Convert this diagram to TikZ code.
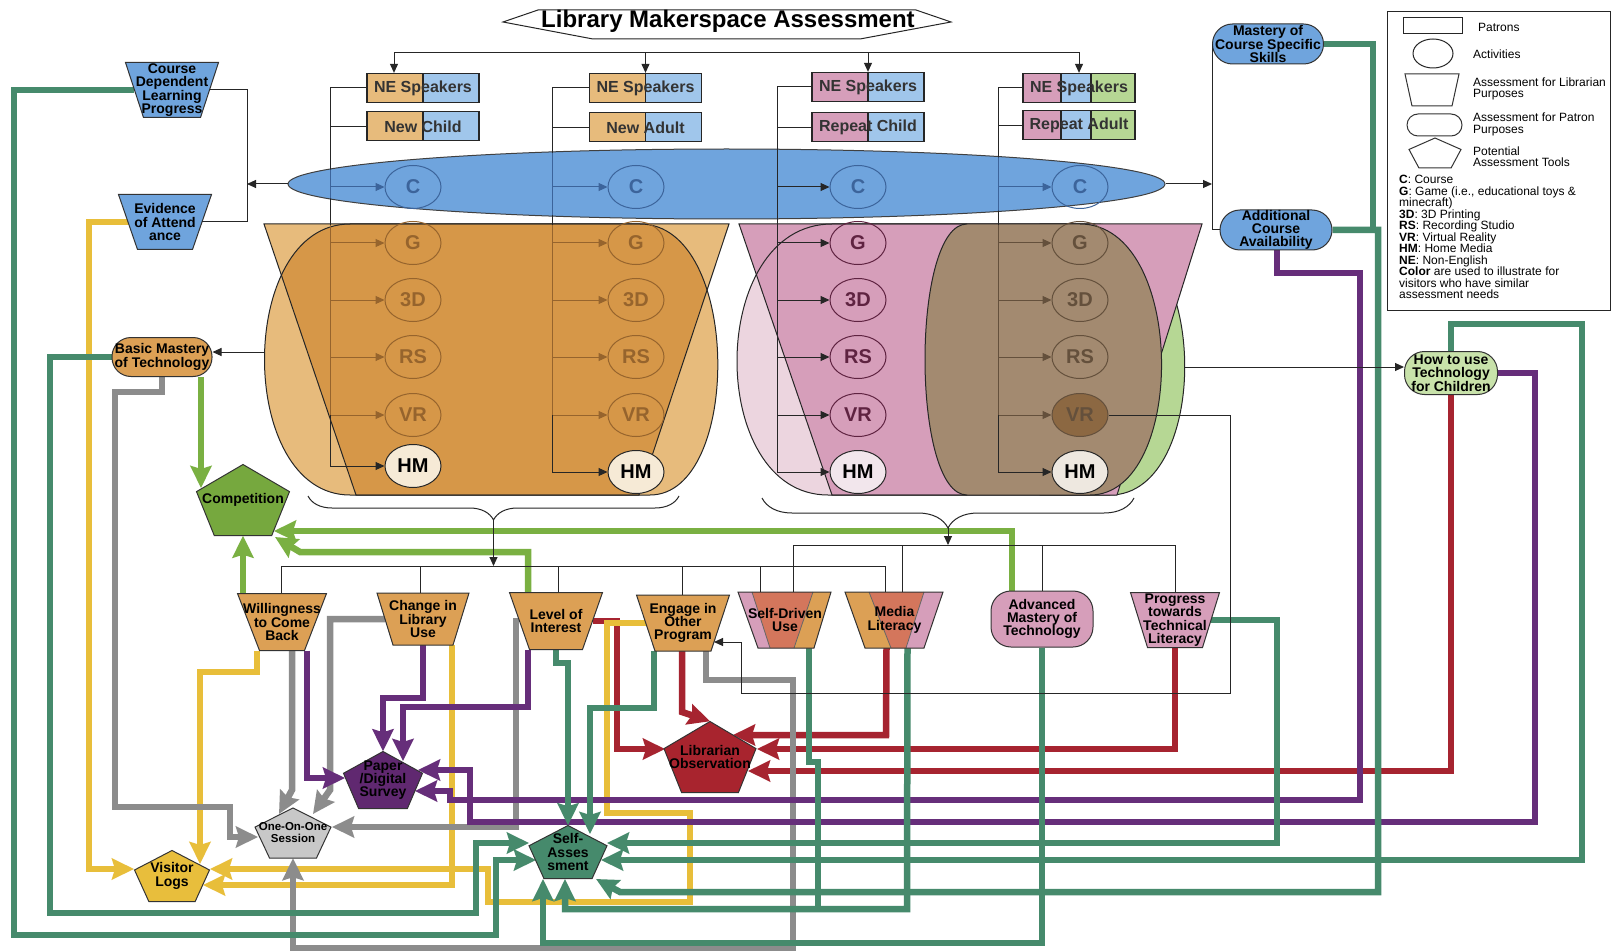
\documentclass[tikz,border=0pt]{standalone}
\usepackage{fontspec}
\setmainfont{Liberation Sans}
\usepackage{tikz}
\usetikzlibrary{shapes.geometric, arrows.meta, positioning, calc, decorations.pathreplacing}

\definecolor{tealC}{RGB}{70,138,108}
\definecolor{yelC}{RGB}{232,190,58}
\definecolor{grayC}{RGB}{140,140,140}
\definecolor{purC}{RGB}{102,46,122}
\definecolor{redC}{RGB}{166,36,48}
\definecolor{lgrC}{RGB}{122,176,66}
\definecolor{blueN}{RGB}{111,164,221}
\definecolor{blueL}{RGB}{160,198,235}
\definecolor{blueD}{RGB}{60,100,155}
\definecolor{oraN}{RGB}{220,160,85}
\definecolor{oraL}{RGB}{231,187,124}
\definecolor{oraD}{RGB}{214,151,72}
\definecolor{oraBr}{RGB}{150,100,45}
\definecolor{pinkN}{RGB}{214,158,186}
\definecolor{pinkL}{RGB}{236,213,223}
\definecolor{greenL}{RGB}{182,215,148}
\definecolor{brownR}{RGB}{163,138,112}
\definecolor{brnD}{RGB}{100,80,60}
\definecolor{salmonN}{RGB}{212,118,92}
\definecolor{compG}{RGB}{118,168,62}
\definecolor{howG}{RGB}{200,226,170}
\definecolor{obsR}{RGB}{168,36,46}
\definecolor{surP}{RGB}{96,40,112}
\definecolor{oneG}{RGB}{200,200,200}
\definecolor{logY}{RGB}{232,190,60}
\definecolor{hmA}{RGB}{246,234,214}
\definecolor{hmB}{RGB}{242,230,236}
\definecolor{hmC}{RGB}{238,232,224}
\definecolor{vrB}{RGB}{140,104,66}
\definecolor{actP}{RGB}{95,35,65}

\pgfdeclarelayer{back}
\pgfdeclarelayer{wires}
\pgfsetlayers{back,wires,main}

\newcommand{\lblfont}{\bfseries\fontsize{14}{13.3}\selectfont}
\newcommand{\smlfont}{\bfseries\fontsize{11.5}{12}\selectfont}
\newcommand{\keyfont}{\fontsize{12}{11.5}\selectfont}

% trapezoid: [opts]{name}{centre}{top w}{bottom w}{height}{fill}{text}
\newcommand{\trapnode}[8][]{%
  \filldraw[fill=#7, draw=black!80, line width=1pt]
    ($(#3)+(-#4/2,-#6/2)$) -- ($(#3)+(#4/2,-#6/2)$) --
    ($(#3)+(#5/2,#6/2)$) -- ($(#3)+(-#5/2,#6/2)$) -- cycle;
  \node[lbl, minimum width={(#4+#5)/2}, minimum height=#6, #1] (#2) at (#3) {#8};}

% pentagon: [opts]{name}{centre}{width}{height}{fill}{text}
\newcommand{\pentnode}[7][]{%
  \filldraw[fill=#6, draw=black!80, line width=1pt]
    ($(#3)+(0,-#5/2)$) -- ($(#3)+(#4/2,-0.118*#5)$) --
    ($(#3)+(0.309*#4,#5/2)$) -- ($(#3)+(-0.309*#4,#5/2)$) --
    ($(#3)+(-#4/2,-0.118*#5)$) -- cycle;
  \node[lbl, minimum width=#4, minimum height=#5, #1] (#2) at (#3) {#7};}

\begin{document}
\begin{tikzpicture}[x=1pt, y=-1pt,
    lbl/.style={inner sep=0pt, align=center, font=\lblfont, text=black},
    stad/.style={rectangle, rounded corners=#1, draw=black!80, line width=1pt, inner sep=0pt, align=center, font=\lblfont},
    stad/.default=16pt,
    patron/.style={rectangle, draw=black!85, line width=1.3pt, minimum width=112pt, minimum height=29pt, inner sep=0pt, font=\bfseries\fontsize{16}{16}\selectfont, text=black!80},
    split/.style 2 args={path picture={
        \fill[#2] ([xshift=#1]path picture bounding box.south west) rectangle (path picture bounding box.north east);
        \draw[black!85, line width=1.2pt] ([xshift=#1]path picture bounding box.south west) -- ([xshift=#1]path picture bounding box.north west);}},
    split3/.style={path picture={
        \fill[blueL] ([xshift=38pt]path picture bounding box.south west) rectangle ([xshift=68pt]path picture bounding box.north west);
        \fill[greenL] ([xshift=68pt]path picture bounding box.south west) rectangle (path picture bounding box.north east);
        \draw[black!85, line width=1.2pt] ([xshift=38pt]path picture bounding box.south west) -- ([xshift=38pt]path picture bounding box.north west)
          ([xshift=68pt]path picture bounding box.south west) -- ([xshift=68pt]path picture bounding box.north west);}},
    act/.style={ellipse, draw, line width=1pt, minimum width=56pt, minimum height=43pt, inner sep=0pt, font=\bfseries\fontsize{20}{20}\selectfont},
    fadeB/.style={draw=blueD, text=blueD},
    fadeO/.style={draw=oraBr, text=oraBr},
    fadeW/.style={draw=brnD, text=brnD},
    wire/.style={draw=black!85, line width=1pt},
    warrow/.style={wire, -{Triangle[length=9pt, width=8pt]}},
    fat/.style={line width=6.5pt, -{Stealth[length=22pt, width=21pt, inset=3pt]}},
    tealw/.style={fat, draw=tealC},
    tealline/.style={line width=6.5pt, draw=tealC},
    yelw/.style={fat, draw=yelC},
    grayw/.style={fat, draw=grayC},
    purw/.style={fat, draw=purC},
    redw/.style={fat, draw=redC},
    lgrw/.style={fat, draw=lgrC}
]

\begin{pgfonlayer}{back}
\fill[white] (0,0) rectangle (1612,952);
\end{pgfonlayer}
\useasboundingbox (0,0) rectangle (1612,952);

% Title
\draw[wire] (503,22) -- (538,10) -- (916,10) -- (951,22) -- (860,39) -- (593,39) -- cycle;
\node[font=\bfseries\fontsize{24}{24}\selectfont] (ttl) at (728,21) {Library Makerspace Assessment};

% Patrons
\node[patron, fill=oraL, split={56pt}{blueL}] (ne1) at (423,88) {NE Speakers};
\node[patron, fill=oraL, split={56pt}{blueL}, below=8pt of ne1] (nc1) {New Child};
\node[patron, fill=oraL, split={56pt}{blueL}] (ne2) at (645.5,88) {NE Speakers};
\node[patron, fill=oraL, split={56pt}{blueL}, below=9pt of ne2] (na2) {New Adult};
\node[patron, fill=pinkN, split={56pt}{blueL}] (ne3) at (868,87) {NE Speakers};
\node[patron, fill=pinkN, split={56pt}{blueL}, below=10pt of ne3] (rc3) {Repeat Child};
\node[patron, fill=pinkN, split3] (ne4) at (1079,88) {NE Speakers};
\node[patron, fill=pinkN, split3, below=7pt of ne4] (ra4) {Repeat Adult};

\coordinate (dtop) at ($(ne1.north)+(-29,-20.5)$);
\draw[wire] (dtop) -- (dtop -| ne4.north);
\draw[warrow] (dtop) -- ($(ne1.north)+(-29,0)$);
\foreach \b in {ne2, ne3, ne4}
  \draw[warrow] (dtop -| \b.north) -- (\b.north);

% Regions - orange
\fill[oraL] (264,224) -- (729,224) -- (639,495) -- (356,495) -- cycle;
\fill[oraL] (350,224) -- (640,224) .. controls (742,224) and (742,495) .. (650,495) -- (350,495) .. controls (236,495) and (236,224) .. (350,224) -- cycle;
\begin{scope}
  \clip (264,224) -- (729,224) -- (639,495) -- (356,495) -- cycle;
  \fill[oraD] (350,224) -- (640,224) .. controls (742,224) and (742,495) .. (650,495) -- (350,495) .. controls (236,495) and (236,224) .. (350,224) -- cycle;
\end{scope}
\draw[wire] (264,224) -- (729,224) -- (639,495) -- (356,495) -- cycle;
\draw[wire] (350,224) -- (640,224) .. controls (742,224) and (742,495) .. (650,495) -- (350,495) .. controls (236,495) and (236,224) .. (350,224) -- cycle;

% Regions - pink, green, brown
\filldraw[fill=greenL, wire] (1040,224) -- (1095,224) .. controls (1212,224) and (1212,495) .. (1110,495) -- (1040,495) -- cycle;
\fill[pinkL] (832,224) -- (967,224) -- (967,495) -- (828,495) .. controls (706,495) and (706,224) .. (832,224) -- cycle;
\fill[pinkN] (739,224) -- (1202,224) -- (1117,495) -- (832,495) -- cycle;
\draw[wire] (967,224) -- (832,224) .. controls (706,224) and (706,495) .. (828,495) -- (967,495);
\draw[wire] (739,224) -- (1202,224) -- (1117,495) -- (832,495) -- cycle;
\filldraw[fill=brownR, wire] (967,224) -- (1080,224) .. controls (1187,224) and (1187,495) .. (1090,495) -- (967,495) .. controls (911,495) and (911,224) .. (967,224) -- cycle;

% Course band
\node[ellipse, draw=black!75, line width=1pt, fill=blueN, minimum width=877pt, minimum height=70pt] (crs) at (726.5,184) {};

% Activities
\coordinate (bus1) at (330,88);
\coordinate (bus2) at (552,88);
\coordinate (bus3) at (777,87);
\coordinate (bus4) at (998,88);

\foreach \lab/\nm/\yy in {G/g/243, 3D/d/300, RS/r/357, VR/v/415} {
  \node[act, fadeO] (\nm1) at (413,\yy) {\lab};
  \node[act, fadeO] (\nm2) at (636,\yy) {\lab};
}
\foreach \lab/\nm/\yy in {G/g/243, 3D/d/300, RS/r/357}
  \node[act, fadeW] (\nm4) at (1080,\yy) {\lab};
\node[act, fadeW, fill=vrB] (v4) at (1080,415) {VR};
\foreach \g/\xx in {1/413, 2/636, 3/858, 4/1080}
  \node[act, fadeB] (c\g) at (\xx,187) {C};
\foreach \lab/\nm/\yy in {G/g/243, 3D/d/300, RS/r/357, VR/v/415}
  \node[act, draw=actP, text=actP] (\nm3) at (858,\yy) {\lab};

\node[act, fill=hmA, draw=black!85] (hm1) at (413,466) {HM};
\node[act, fill=hmA, draw=black!85] (hm2) at (636,472) {HM};
\node[act, fill=hmB, draw=black!85] (hm3) at (858,472) {HM};
\node[act, fill=hmC, draw=black!85] (hm4) at (1080,472) {HM};

% Patron brackets
\draw[wire] (ne1.west) -- (bus1) (nc1.west) -- (nc1.west -| bus1);
\draw[wire] (ne2.west) -- (bus2) (na2.west) -- (na2.west -| bus2);
\draw[wire] (ne3.west) -- (bus3) (rc3.west) -- (rc3.west -| bus3);
\draw[wire] (ne4.west) -- (bus4) (ra4.west) -- (ra4.west -| bus4);
\foreach \g in {1,2,3,4}
  \draw[wire] (bus\g) -- (bus\g |- v\g);
\begin{scope}
  \clip (crs.center) ellipse [x radius=437, y radius=34];
  \foreach \g in {1,2,4}
    \draw[wire, draw=blueD] (bus\g) -- (bus\g |- v\g);
\end{scope}
\draw[wire, draw=oraBr] ($(bus1)+(0,137)$) -- (bus1 |- v1);
\draw[wire, draw=oraBr] ($(bus2)+(0,137)$) -- (bus2 |- v2);
\draw[wire, draw=brnD] ($(bus4)+(0,137)$) -- (bus4 |- v4);
\foreach \g in {1,2,4}
  \draw[warrow, draw=blueD] (bus\g |- c\g) -- (c\g.west);
\foreach \nm in {g,d,r,v} {
  \draw[warrow, draw=oraBr] (bus1 |- \nm1) -- (\nm1.west);
  \draw[warrow, draw=oraBr] (bus2 |- \nm2) -- (\nm2.west);
  \draw[warrow, draw=brnD] (bus4 |- \nm4) -- (\nm4.west);
}
\foreach \nm in {c,g,d,r,v}
  \draw[warrow] (bus3 |- \nm3) -- (\nm3.west);
\foreach \g in {1,2,3,4}
  \draw[warrow] (bus\g |- v\g) |- (hm\g.west);

% Left assessments
\trapnode{cdlp}{172,90}{93}{57}{55}{blueN}{Course\\Dependent\\Learning\\Progress}
\trapnode{evid}{165,222}{93}{55}{55}{blueN}{Evidence\\of Attend\\ance}
\node[stad=19pt, fill=oraN, minimum width=100pt, minimum height=39pt] (bmt) at (162,357) {Basic Mastery\\of Technology};

% Right assessments
\node[stad=20pt, fill=blueN, minimum width=111pt, minimum height=40pt] (mcs) at (1268,44) {Mastery of\\Course Specific\\Skills};
\node[stad=20pt, fill=blueN, minimum width=112pt, minimum height=40pt] (aca) at (1276,230) {Additional\\Course\\Availability};
\node[stad=20pt, fill=howG, minimum width=93pt, minimum height=43pt] (htc) at (1451,373) {How to use\\Technology\\for Children};

% Bottom assessments
\trapnode{wcb}{282,622}{89}{45}{57}{oraN}{Willingness\\to Come\\Back}
\trapnode{cilu}{423,619}{92}{60}{52}{oraN}{Change in\\Library\\Use}
\trapnode{loi}{556,621}{93}{53}{57}{oraN}{Level of\\Interest}
\trapnode{eiop}{683,623}{93}{56}{56}{oraN}{Engage in\\Other\\Program}

\fill[pinkN] (738,592) -- (831,592) -- (814,648) -- (758,648) -- cycle;
\fill[salmonN] (752,592) -- (813,592) -- (794,648) -- (770,648) -- cycle;
\fill[oraN] (813,592) -- (831,592) -- (814,648) -- (794,648) -- cycle;
\draw[black!60, line width=.8pt] (752,592) -- (770,648) (813,592) -- (794,648);
\draw[black!80, line width=1pt] (738,592) -- (831,592) -- (814,648) -- (758,648) -- cycle;
\node[lbl, minimum width=74.5pt, minimum height=56pt] (sdu) at (785,620) {Self-Driven\\Use};

\fill[oraN] (845,592) -- (943,592) -- (924,648) -- (865,648) -- cycle;
\fill[salmonN] (869,592) -- (924,592) -- (906,648) -- (891,648) -- cycle;
\fill[pinkN] (924,592) -- (943,592) -- (924,648) -- (906,648) -- cycle;
\draw[black!60, line width=.8pt] (869,592) -- (891,648) (924,592) -- (906,648);
\draw[black!80, line width=1pt] (845,592) -- (943,592) -- (924,648) -- (865,648) -- cycle;
\node[lbl, minimum width=78.5pt, minimum height=56pt] (ml) at (894.5,620) {Media\\Literacy};

\node[stad=20pt, fill=pinkN, minimum width=102pt, minimum height=56pt] (amt) at (1042,619) {Advanced\\Mastery of\\Technology};
\trapnode{ptl}{1175,620}{89}{55}{55}{pinkN}{Progress\\towards\\Technical\\Literacy}

% Assessment tools
\pentnode{comp}{243,500}{93}{71}{compG}{Competition}
\pentnode{vlog}{172,876}{75}{51}{logY}{Visitor\\Logs}
\pentnode[font=\smlfont]{oos}{293,833}{76}{50}{oneG}{One-On-One\\Session}
\pentnode{pds}{383,780}{79}{57}{surP}{Paper\\/Digital\\Survey}
\pentnode{sa}{568,852}{78}{53}{tealC}{Self-\\Asses\\sment}
\pentnode{lobs}{710,757}{92}{71}{obsR}{Librarian\\Observation}

% Thin connectors
\coordinate (lbr) at (247,184);
\draw[wire] (cdlp.east) -| (247,222) -- (evid.east);
\draw[warrow] (crs.west) -- (lbr);
\draw[wire] (mcs.west) |- (aca.west);
\draw[warrow] (crs.east) -- (crs.east -| mcs.west);
\coordinate (orgL) at (264,352);
\draw[warrow] (orgL) -- (orgL -| bmt.east);
\coordinate (grnR) at (1184,367);
\draw[warrow] (grnR) -- (grnR -| htc.west);
\draw[warrow] (v4.east) -- (1230,415) -- (1230,693) -- (741,693) -- (741,642) -- ($(eiop)+(31,19)$);

% Braces and buses
\draw[wire, decorate, decoration={brace, mirror, amplitude=24pt}] (308,496) -- (679,496);
\draw[wire, decorate, decoration={brace, mirror, amplitude=30pt}] (762,498) -- (1134,498);
\coordinate (b1) at (493.5,520);
\coordinate (b2) at (948,528);
\coordinate (busA) at (493.5,566);
\coordinate (busB) at (948,545);
\draw[warrow] (b1) -- (busA);
\draw[warrow] (b2) -- (busB);
\draw[wire] ($(wcb.north)+(-1,0)$) |- (busA);
\draw[wire] ($(ml.north)+(-9.5,0)$) |- (busA);
\foreach \n/\dx in {cilu/-3, loi/2, eiop/-1, sdu/-25}
  \draw[wire] ($(\n.north)+(\dx,0)$) |- (busA);
\foreach \n/\dx in {sdu/8, ml/7.5, amt/0, ptl/0}
  \draw[wire] ($(\n.north)+(\dx,0)$) |- (busB);

% Thick connectors
\begin{pgfonlayer}{wires}
% red
\draw[redw] (loi.east) -- (617,621) -- (617,749) -- ($(lobs)+(-45,-8)$);
\draw[redw] ($(eiop.south)+(-1,0)$) -- (682,712) -- (lobs.north);
\draw[redw] ($(ml.south)+(-8,0)$) -- (886,735) -- ($(lobs)+(23,-22)$);
\draw[redw] (ptl.south) -- (1175,749) -- ($(lobs)+(47,-8)$);
\draw[redw] (htc.south) -- (1451,771) -- ($(lobs)+(38,14)$);
% yellow
\draw[yelw] (evid.west) -- (89,222) -- (89,869) -- ($(vlog)+(-38,-7)$);
\draw[yelw] ($(wcb.south)+(-25,0)$) -- (257,672) -- (200,672) -- ($(vlog)+(28,-12)$);
\draw[yelw] ($(cilu.south)+(29,0)$) -- (452,885) -- ($(vlog)+(31,9)$);
\draw[yelw] (eiop.west) -- (607,623) -- (607,813) -- (690,813) -- (690,902) -- (488,902) -- (488,869) -- ($(vlog)+(38,-7)$);
% gray
\draw[grayw] (bmt.south) -- (162,392) -- (115,392) -- (115,807) -- (230,807) -- (230,837) -- ($(oos)+(-35,4)$);
\draw[grayw] ($(wcb.south)+(10,0)$) -- (292,790) -- ($(oos)+(-14,-19)$);
\draw[grayw] (cilu.west) -- (330,619) -- (330,790) -- ($(oos)+(20,-19)$);
\draw[grayw] (loi.west) -- (516,621) -- (516,827) -- ($(oos)+(39,-6)$);
\draw[grayw] ($(eiop.south)+(23,0)$) -- (706,680) -- (793,680) -- (793,948) -- (293,948) -- (oos.south);
% purple
\draw[purw] ($(wcb.south)+(25,0)$) -- (307,778) -- ($(pds)+(-38,-2)$);
\draw[purw] (cilu.south) -- (423,698) -- (383,698) -- (pds.north);
\draw[purw] ($(loi.south)+(-28,0)$) -- (528,707) -- (403,707) -- ($(pds)+(20,-19)$);
\draw[purw] ($(aca.south)+(1,0)$) -- (1277,273) -- (1360,273) -- (1360,800) -- (450,800) -- (450,791) -- ($(pds)+(32,11)$);
\draw[purw] (htc.east) -- (1535,373) -- (1535,822) -- (470,822) -- (470,770) -- ($(pds)+(35,-10)$);
% teal
\draw[tealw] (cdlp.west) -- (14,90) -- (14,935) -- (496,935) -- (496,860) -- ($(sa)+(-32,8)$);
\draw[tealw] (bmt.west) -- (50,357) -- (50,913) -- (476,913) -- (476,843) -- ($(sa)+(-39,-9)$);
\draw[tealw] (loi.south) -- (556,663) -- (568,663) -- (sa.north);
\draw[tealw] ($(eiop.south)+(-29,0)$) -- (654,708) -- (590,708) -- ($(sa)+(22,-18)$);
\draw[tealline] ($(sdu.south)+(24,0)$) -- (809,762) -- (818,762) -- (818,909);
\draw[tealw] ($(ml.south)+(13,0)$) -- (907,909) -- (565,909) -- ($(sa)+(-3,27)$);
\draw[tealw] (amt.south) -- (1042,943) -- (543,943) -- ($(sa)+(-25,27)$);
\draw[tealline] (mcs.east) -- (1373,44) -- (1373,230);
\draw[tealw] (aca.east) -- (1378,230) -- (1378,892) -- (620,892) -- ($(sa)+(28,27)$);
\draw[tealw] (ptl.east) -- (1277,620) -- (1277,843) -- ($(sa)+(39,-9)$);
\draw[tealw] (htc.north) -- (1451,324) -- (1582,324) -- (1582,860) -- ($(sa)+(33,8)$);
% light green
\draw[lgrw] ($(bmt.south)+(39,0)$) -- ($(comp)+(-42,-12)$);
\draw[lgrw] ($(wcb.north)+(-39,0)$) -- (comp.south);
\draw[lgrw] ($(loi.north)+(-28,0)$) -- (528,552) -- (300,552) -- ($(comp)+(32,37)$);
\draw[lgrw] ($(amt.north)+(-30,0)$) -- (1012,531) -- ($(comp)+(31,31)$);
\end{pgfonlayer}

% Legend
\node[draw=black!85, line width=1pt, minimum width=223pt, minimum height=298pt, inner sep=0pt] (key) at (1498.5,161) {};
\node[draw=black!85, line width=1pt, minimum width=59pt, minimum height=16pt, inner sep=0pt] (kRect) at (1432.5,26) {};
\node[ellipse, draw=black!85, line width=1pt, minimum width=40pt, minimum height=29pt, inner sep=0pt] (kCirc) at (1433,53.5) {};
\trapnode{kTrap}{1432,90}{54}{40}{32}{white}{}
\node[stad=11pt, minimum width=55pt, minimum height=22pt] (kStad) at (1434.5,125) {};
\pentnode{kPent}{1435,153}{52}{30}{white}{}
\node[anchor=west, font=\keyfont, inner sep=0pt] (kRectL) at (1478,27) {Patrons};
\node[anchor=west, font=\keyfont, inner sep=0pt] (kCircL) at (1473,54) {Activities};
\node[anchor=west, font=\keyfont, align=left, inner sep=0pt] (kTrapL) at (1473,89) {Assessment for Librarian\\Purposes};
\node[anchor=west, font=\keyfont, align=left, inner sep=0pt] (kStadL) at (1473,124.5) {Assessment for Patron\\Purposes};
\node[anchor=west, font=\keyfont, align=left, inner sep=0pt] (kPentL) at (1473,156.5) {Potential\\Assessment Tools};
\node[anchor=north west, font=\keyfont, align=left, inner sep=0pt] (kList) at (1399,175) {%
  \textbf{C}: Course\\
  \textbf{G}: Game (i.e., educational toys \&\\
  minecraft)\\
  \textbf{3D}: 3D Printing\\
  \textbf{RS}: Recording Studio\\
  \textbf{VR}: Virtual Reality\\
  \textbf{HM}: Home Media\\
  \textbf{NE}: Non-English\\
  \textbf{Color} are used to illustrate for\\
  visitors who have similar\\
  assessment needs};

\end{tikzpicture}
\end{document}
